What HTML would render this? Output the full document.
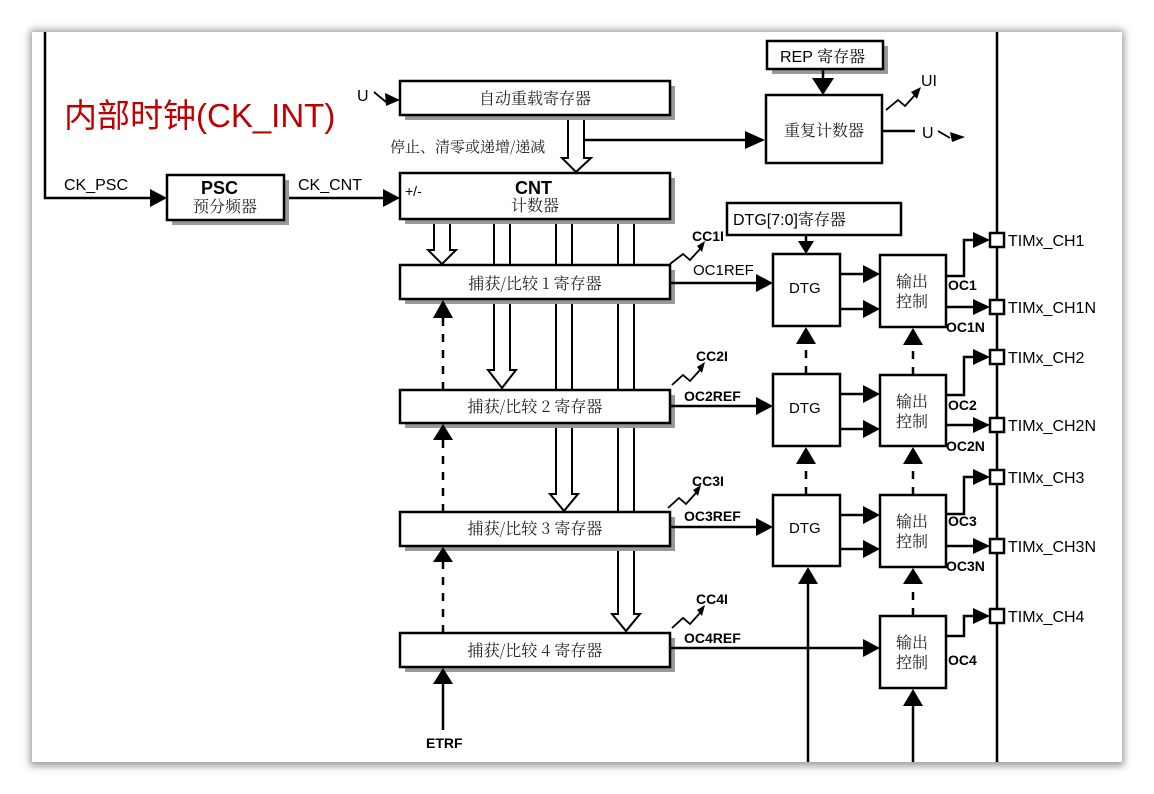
<!DOCTYPE html>
<html><head><meta charset="utf-8"><style>
html,body{margin:0;padding:0;background:#fff;}
svg{display:block;font-family:"Liberation Sans","Noto Sans CJK SC",sans-serif;}
.cn{font-family:"Noto Serif CJK SC","Noto Sans CJK SC",serif;}
</style></head><body>
<svg width="1154" height="794" viewBox="0 0 1154 794" xmlns="http://www.w3.org/2000/svg">
<defs>
<filter id="sh" x="-5%" y="-5%" width="110%" height="110%"><feGaussianBlur stdDeviation="4"/></filter>
</defs>
<rect x="0" y="0" width="1154" height="794" fill="#fff"/>
<rect x="30" y="30" width="1094" height="736" fill="#999" filter="url(#sh)"/>
<rect x="32" y="32" width="1090" height="730" fill="#fff"/>
<g stroke="#000" stroke-width="2.5" fill="none">
<polyline points="45,32 45,198 152,198"/>
</g>
<g fill="#000">
<path d="M150,189 L167,198 L150,207z"/>
<path d="M383,189 L400,198 L383,207z"/>
<path d="M745,131 L765,140 L745,149z"/>
<path d="M812,78 L823,95 L834,78z" />
</g>
<line x1="284" y1="198" x2="385" y2="198" stroke="#000" stroke-width="2.5"/>
<!-- hollow arrows (behind boxes) -->
<g stroke="#000" stroke-width="2" fill="#fff">
<path d="M568,115 V158 H562 L576,172 L591,158 H584 V115"/>
<path d="M434,219 V250 H428 L442,264 L456,250 H450 V219"/>
<path d="M494,219 V370 H488 L502,388 L516,370 H510 V219"/>
<path d="M556,219 V494 H550 L564,511 L578,494 H572 V219"/>
<path d="M618,219 V614 H612 L626,631 L640,614 H634 V219"/>
</g>
<!-- shadows -->
<g fill="#999">
<rect x="172" y="180" width="117" height="45"/>
<rect x="405" y="86" width="270" height="34"/>
<rect x="772" y="46" width="116" height="28"/>
<rect x="405" y="270" width="270" height="34"/>
<rect x="405" y="395" width="270" height="33"/>
<rect x="405" y="517" width="270" height="34"/>
<rect x="405" y="638" width="270" height="34"/>
<rect x="405" y="178" width="270" height="46"/>
</g>
<g stroke="#000" stroke-width="2.5" fill="#fff">
<rect x="167" y="175" width="117" height="45"/>
<rect x="400" y="81" width="270" height="34"/>
<rect x="400" y="173" width="270" height="46"/>
<rect x="767" y="41" width="116" height="28"/>
<rect x="766" y="95" width="116" height="68"/>
<rect x="727" y="203" width="174" height="32"/>
<rect x="400" y="265" width="270" height="34"/>
<rect x="400" y="390" width="270" height="33"/>
<rect x="400" y="512" width="270" height="34"/>
<rect x="400" y="633" width="270" height="34"/>
<rect x="773" y="254" width="67" height="72"/>
<rect x="773" y="374" width="67" height="72"/>
<rect x="773" y="495" width="67" height="71"/>
<rect x="880" y="255" width="66" height="72"/>
<rect x="880" y="375" width="66" height="71"/>
<rect x="880" y="495" width="66" height="72"/>
<rect x="880" y="616" width="66" height="72"/>
</g>
<g stroke="#000" stroke-width="2.5" fill="none">
<line x1="584" y1="140" x2="748" y2="140"/>
<line x1="823" y1="69" x2="823" y2="80"/>
<line x1="997" y1="32" x2="997" y2="762"/>
<line x1="806" y1="235" x2="806" y2="242"/>
<line x1="882" y1="131" x2="915" y2="131"/>
<line x1="670" y1="283" x2="758" y2="283"/>
<line x1="670" y1="406" x2="758" y2="406"/>
<line x1="670" y1="527" x2="758" y2="527"/>
<line x1="670" y1="648" x2="865" y2="648"/>
<line x1="840" y1="274" x2="866" y2="274"/><line x1="840" y1="309" x2="866" y2="309"/>
<line x1="840" y1="394" x2="866" y2="394"/><line x1="840" y1="429" x2="866" y2="429"/>
<line x1="840" y1="515" x2="866" y2="515"/><line x1="840" y1="549" x2="866" y2="549"/>
<polyline points="946,276 964,276 964,240 976,240"/>
<line x1="946" y1="307" x2="976" y2="307"/>
<polyline points="946,395 964,395 964,357 976,357"/>
<line x1="946" y1="425" x2="976" y2="425"/>
<polyline points="946,514 964,514 964,477 976,477"/>
<line x1="946" y1="546" x2="976" y2="546"/>
<polyline points="946,636 964,636 964,616 976,616"/>
<line x1="443" y1="730" x2="443" y2="682"/>
<line x1="808" y1="762" x2="808" y2="582"/>
<line x1="913" y1="762" x2="913" y2="704"/>
</g>
<g stroke="#000" stroke-width="2.5" stroke-dasharray="8,8" fill="none">
<line x1="443" y1="390" x2="443" y2="318"/>
<line x1="443" y1="512" x2="443" y2="440"/>
<line x1="443" y1="633" x2="443" y2="562"/>
<line x1="806" y1="374" x2="806" y2="342"/>
<line x1="806" y1="495" x2="806" y2="462"/>
<line x1="913" y1="375" x2="913" y2="343"/>
<line x1="913" y1="495" x2="913" y2="462"/>
<line x1="913" y1="616" x2="913" y2="582"/>
</g>
<g fill="#000">
<path d="M433,318 L443,300 L453,318z"/><path d="M433,440 L443,424 L453,440z"/><path d="M433,562 L443,547 L453,562z"/><path d="M433,684 L443,668 L453,684z"/>
<path d="M796,344 L806,327 L816,344z"/><path d="M796,464 L806,447 L816,464z"/><path d="M798,584 L808,567 L818,584z"/>
<path d="M903,345 L913,328 L923,345z"/><path d="M903,464 L913,447 L923,464z"/><path d="M903,584 L913,568 L923,584z"/><path d="M903,706 L913,689 L923,706z"/>
<path d="M798,241 L806,254 L814,241z"/>
<path d="M756,274 L773,283 L756,292z"/><path d="M756,397 L773,406 L756,415z"/><path d="M756,518 L773,527 L756,536z"/><path d="M863,639 L880,648 L863,657z"/>
<path d="M863,265 L880,274 L863,283z"/><path d="M863,300 L880,309 L863,318z"/>
<path d="M863,385 L880,394 L863,403z"/><path d="M863,420 L880,429 L863,438z"/>
<path d="M863,506 L880,515 L863,524z"/><path d="M863,540 L880,549 L863,558z"/>
<path d="M973,232 L990,240 L973,248z"/><path d="M973,299 L990,307 L973,315z"/>
<path d="M973,349 L990,357 L973,365z"/><path d="M973,417 L990,425 L973,433z"/>
<path d="M973,469 L990,477 L973,485z"/><path d="M973,538 L990,546 L973,554z"/>
<path d="M973,608 L990,616 L973,624z"/>
</g>
<g stroke="#000" stroke-width="2.5" fill="#fff">
<rect x="990" y="233" width="14" height="14"/><rect x="990" y="300" width="14" height="14"/>
<rect x="990" y="350" width="14" height="14"/><rect x="990" y="418" width="14" height="14"/>
<rect x="990" y="470" width="14" height="14"/><rect x="990" y="539" width="14" height="14"/>
<rect x="990" y="609" width="14" height="14"/>
</g>
<g stroke="#000" stroke-width="1.8" fill="none">
<polyline points="670,264 683,254 690,260 700,249"/>
<polyline points="672,385 683,375 690,381 700,370"/>
<polyline points="668,508 679,498 686,504 696,493"/>
<polyline points="672,628 683,618 690,624 700,613"/>
<polyline points="886,110 898,100 905,106 915,95"/>
<polyline points="374,92 386,102"/>
<polyline points="938,131 950,138"/>
</g>
<g fill="#000">
<path d="M697,246 L705,241 L702,252z"/><path d="M697,367 L705,362 L702,373z"/><path d="M693,490 L701,485 L698,496z"/><path d="M697,610 L705,605 L702,616z"/>
<path d="M911,92 L921,87 L917,99z"/>
<path d="M385,93 L400,100 L386,106z"/>
<path d="M950,132 L965,137 L952,142z"/>
</g>
<text x="64" y="127" font-size="33" fill="#c00000" font-family="Liberation Sans,Noto Sans CJK SC,sans-serif">内部时钟(CK_INT)</text>
<g font-size="16" fill="#000">
<text x="64" y="190">CK_PSC</text>
<text x="298" y="190">CK_CNT</text>
<text x="357" y="101">U</text>
<text x="921" y="86">UI</text>
<text x="922" y="138">U</text>
<text x="405" y="196" font-size="14">+/-</text>
<text x="780" y="62">REP <tspan class="cn">寄存器</tspan></text>
<text x="733" y="225">DTG[7:0]<tspan class="cn">寄存器</tspan></text>
<text x="1008" y="246">TIMx_CH1</text>
<text x="1008" y="313">TIMx_CH1N</text>
<text x="1008" y="363">TIMx_CH2</text>
<text x="1008" y="431">TIMx_CH2N</text>
<text x="1008" y="483">TIMx_CH3</text>
<text x="1008" y="552">TIMx_CH3N</text>
<text x="1008" y="622">TIMx_CH4</text>
<text x="693" y="275" font-size="15">OC1REF</text>
<text x="789" y="293" font-size="15">DTG</text>
<text x="789" y="413" font-size="15">DTG</text>
<text x="789" y="533" font-size="15">DTG</text>
</g>
<g font-size="14" font-weight="bold" fill="#000">
<text x="201" y="194" font-size="18">PSC</text>
<text x="515" y="194" font-size="18">CNT</text>
<text x="692" y="241">CC1I</text>
<text x="696" y="361">CC2I</text>
<text x="692" y="486">CC3I</text>
<text x="696" y="604">CC4I</text>
<text x="684" y="401">OC2REF</text>
<text x="684" y="521">OC3REF</text>
<text x="684" y="643">OC4REF</text>
<text x="426" y="748">ETRF</text>
<text x="948" y="290">OC1</text><text x="946" y="332">OC1N</text>
<text x="948" y="410">OC2</text><text x="946" y="451">OC2N</text>
<text x="948" y="526">OC3</text><text x="946" y="571">OC3N</text>
<text x="948" y="665">OC4</text>
</g>
<g class="cn" font-size="16" fill="#222" text-anchor="middle">
<text x="225" y="212">预分频器</text>
<text x="535" y="211">计数器</text>
<text x="535" y="104">自动重载寄存器</text>
<text x="824" y="136">重复计数器</text>
<text x="535" y="289">捕获/比较 1 寄存器</text>
<text x="535" y="412">捕获/比较 2 寄存器</text>
<text x="535" y="534">捕获/比较 3 寄存器</text>
<text x="535" y="656">捕获/比较 4 寄存器</text>
<text x="912" y="287">输出</text><text x="912" y="307">控制</text>
<text x="912" y="407">输出</text><text x="912" y="427">控制</text>
<text x="912" y="527">输出</text><text x="912" y="547">控制</text>
<text x="912" y="648">输出</text><text x="912" y="668">控制</text>
</g>
<text x="390" y="152" class="cn" font-size="15" fill="#222">停止、清零或递增/递减</text>
</svg>
</body></html>
